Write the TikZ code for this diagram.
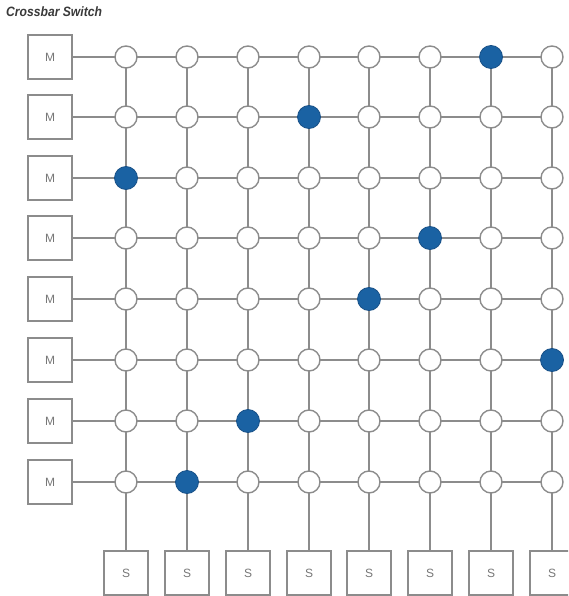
\documentclass[tikz,border=0pt]{standalone}
\usepackage{fontspec}
\setmainfont{Liberation Sans}
\begin{document}
\begin{tikzpicture}[x=1pt,y=-1pt,
  wire/.style={draw=linegray,line width=1.6pt},
  unitbox/.style={draw=linegray,line width=1.6pt,fill=white,minimum size=44pt,inner sep=0pt,font=\fontsize{12}{12}\selectfont,text=labelgray},
  xpoint/.style={circle,draw=linegray,line width=1.4pt,fill=white,minimum size=22pt,inner sep=0pt},
  onpoint/.style={circle,draw=bluedark,line width=0.8pt,fill=blueset,minimum size=23pt,inner sep=0pt}]
\definecolor{linegray}{HTML}{8C8C8C}
\definecolor{labelgray}{HTML}{777777}
\definecolor{blueset}{HTML}{1A62A3}
\definecolor{bluedark}{HTML}{174F86}
\definecolor{titlegray}{HTML}{3A3A3A}
\useasboundingbox (0,0) rectangle (568,596);
\clip (0,0) rectangle (568,596);
\node[anchor=west,text=titlegray,font=\fontsize{13.5}{13.5}\selectfont\bfseries\itshape,xscale=0.9,inner sep=0pt] (title) at (6,12) {Crossbar Switch};
% column and row positions
\def\colx{{126,187,248,309,369,430,491,552}}
\def\rowy{{57,117,178,238,299,360,421,482}}
% S boxes
\foreach \j in {1,...,8}{
  \pgfmathsetmacro{\xx}{\colx[\j-1]}
  \node[unitbox] (S\j) at (\xx,573) {S};
}
% M boxes
\foreach \i in {1,...,8}{
  \pgfmathsetmacro{\yy}{\rowy[\i-1]}
  \node[unitbox] (M\i) at (50,\yy) {M};
}
% crosspoints
\foreach \i in {1,...,8}{
  \foreach \j in {1,...,8}{
    \pgfmathsetmacro{\xx}{\colx[\j-1]}
    \pgfmathsetmacro{\yy}{\rowy[\i-1]}
    \coordinate (P\i-\j) at (\xx,\yy);
  }
}
% wires
\foreach \i in {1,...,8}{
  \draw[wire] (M\i.east) -- (P\i-8);
}
\foreach \j in {1,...,8}{
  \draw[wire] (P1-\j) -- (S\j.north);
}
\foreach \i/\on in {1/7,2/4,3/1,4/6,5/5,6/8,7/3,8/2}{
  \foreach \j in {1,...,8}{
    \ifnum\j=\on
      \node[onpoint] (X\i-\j) at (P\i-\j) {};
    \else
      \node[xpoint] (X\i-\j) at (P\i-\j) {};
    \fi
  }
}
\end{tikzpicture}
\end{document}
